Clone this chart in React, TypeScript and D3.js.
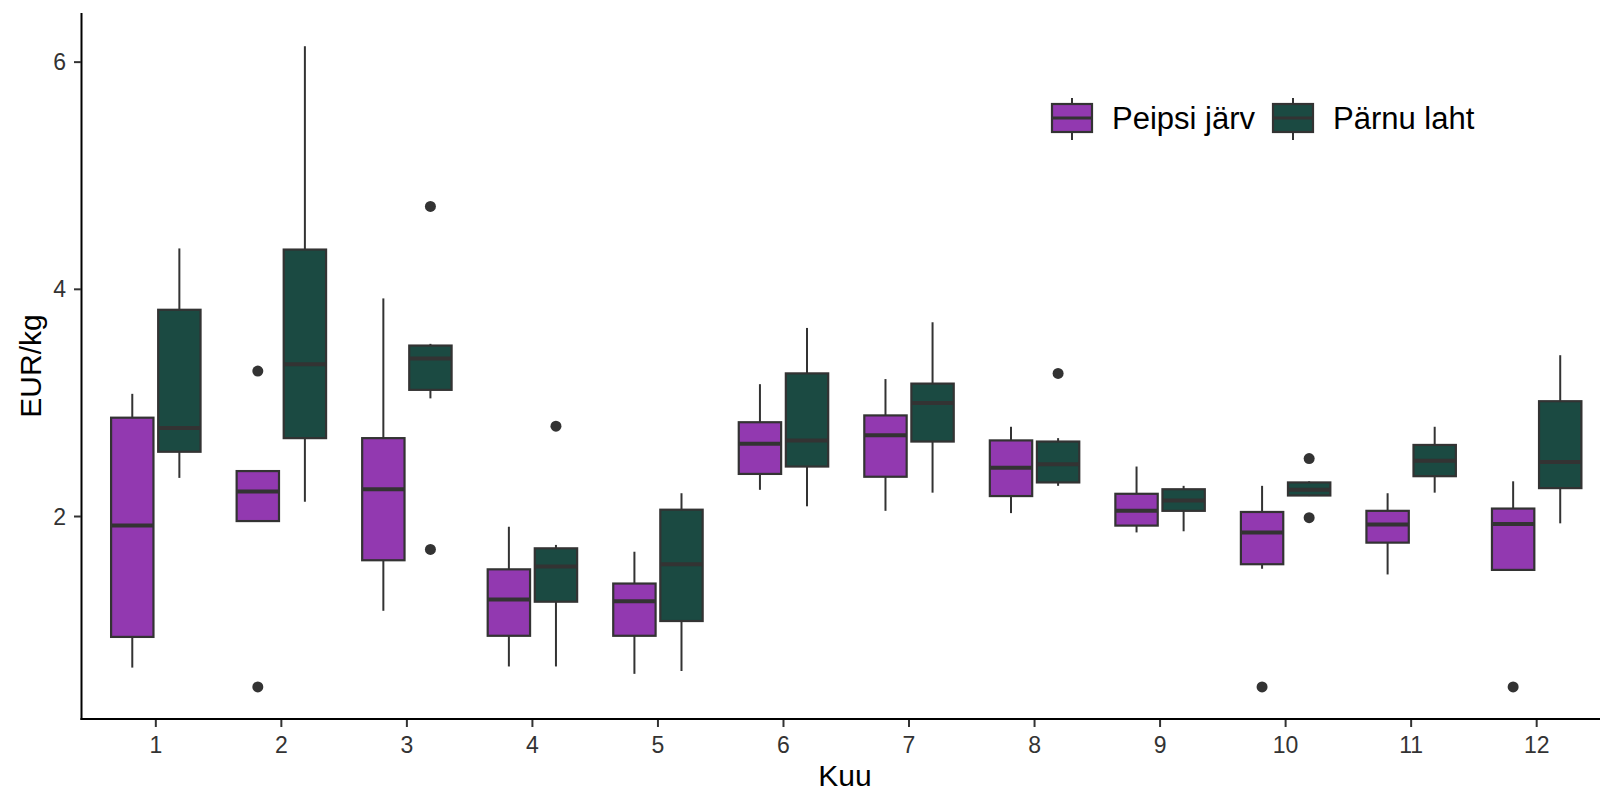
import React from "react";
import * as d3 from "d3";

// months on the x axis
const months = [1, 2, 3, 4, 5, 6, 7, 8, 9, 10, 11, 12];
const seriesNames = ["Peipsi järv", "Pärnu laht"];
const seriesColors = ["#9239B0", "#1B4A42"];
const yTicks = [2, 4, 6];

// Peipsi järv: whisker low, q1, median, q3, whisker high
const peipsiLow = [0.67, 1.96, 1.17, 0.68, 0.615, 2.235, 2.05, 2.03, 1.86, 1.54, 1.49, 1.53];
const peipsiQ1 = [0.94, 1.96, 1.615, 0.95, 0.95, 2.375, 2.35, 2.18, 1.92, 1.58, 1.77, 1.53];
const peipsiMed = [1.92, 2.22, 2.24, 1.27, 1.255, 2.64, 2.715, 2.43, 2.05, 1.86, 1.93, 1.935];
const peipsiQ3 = [2.87, 2.4, 2.69, 1.535, 1.41, 2.83, 2.89, 2.67, 2.2, 2.04, 2.05, 2.07];
const peipsiHigh = [3.08, 2.4, 3.92, 1.91, 1.69, 3.165, 3.21, 2.79, 2.44, 2.27, 2.205, 2.31];
const peipsiOutMonth = [2, 2, 10, 12];
const peipsiOutValue = [3.28, 0.5, 0.5, 0.5];

// Pärnu laht
const parnuLow = [2.34, 2.13, 3.04, 0.68, 0.64, 2.09, 2.21, 2.27, 1.87, 2.18, 2.21, 1.94];
const parnuQ1 = [2.57, 2.69, 3.115, 1.25, 1.08, 2.44, 2.66, 2.3, 2.05, 2.185, 2.355, 2.25];
const parnuMed = [2.78, 3.34, 3.39, 1.56, 1.58, 2.67, 3.0, 2.46, 2.14, 2.235, 2.49, 2.48];
const parnuQ3 = [3.82, 4.35, 3.505, 1.72, 2.06, 3.26, 3.17, 2.66, 2.24, 2.3, 2.63, 3.015];
const parnuHigh = [4.36, 6.14, 3.52, 1.75, 2.205, 3.66, 3.71, 2.69, 2.27, 2.31, 2.79, 3.42];
const parnuOutMonth = [3, 3, 4, 8, 10, 10];
const parnuOutValue = [4.73, 1.71, 2.795, 3.26, 2.51, 1.99];

const W = 1600;
const H = 793;
const font = "'Liberation Sans', Arial, sans-serif";
const ink = "#333333";

export default function App() {
  const x = d3.scalePoint<number>().domain(months).range([80.5, 1612]).padding(0.6);
  const y = d3.scaleLinear().domain([0.2175, 6.4325]).range([719, 13]);
  const step = x.step();
  const boxW = 0.3375 * step;
  const dodge = [-0.1875 * step, 0.1875 * step];

  const series = [
    { low: peipsiLow, q1: peipsiQ1, med: peipsiMed, q3: peipsiQ3, high: peipsiHigh, om: peipsiOutMonth, ov: peipsiOutValue },
    { low: parnuLow, q1: parnuQ1, med: parnuMed, q3: parnuQ3, high: parnuHigh, om: parnuOutMonth, ov: parnuOutValue },
  ];

  const legendX = [1052, 1273];

  return (
    <svg width={W} height={H} style={{ position: "absolute", left: 0, top: 0, background: "#fff" }} fontFamily={font}>
      {series.map((s, si) => (
        <g key={si}>
          {s.om.map((m, i) => (
            <circle key={"o" + i} cx={(x(m) as number) + dodge[si]} cy={y(s.ov[i])} r={5.5} fill={ink} />
          ))}
          {months.map((m, i) => {
            const cx = (x(m) as number) + dodge[si];
            return (
              <g key={m}>
                <line x1={cx} x2={cx} y1={y(s.high[i])} y2={y(s.q3[i])} stroke={ink} strokeWidth={2} />
                <line x1={cx} x2={cx} y1={y(s.q1[i])} y2={y(s.low[i])} stroke={ink} strokeWidth={2} />
                <rect
                  x={cx - boxW / 2}
                  y={y(s.q3[i])}
                  width={boxW}
                  height={Math.max(0.5, y(s.q1[i]) - y(s.q3[i]))}
                  fill={seriesColors[si]}
                  stroke={ink}
                  strokeWidth={2.2}
                />
                <line x1={cx - boxW / 2} x2={cx + boxW / 2} y1={y(s.med[i])} y2={y(s.med[i])} stroke={ink} strokeWidth={4} />
              </g>
            );
          })}
        </g>
      ))}

      {/* axes */}
      <line x1={81.5} x2={81.5} y1={13} y2={720} stroke="#000" strokeWidth={2} />
      <line x1={80.5} x2={W} y1={719} y2={719} stroke="#000" strokeWidth={2} />
      {yTicks.map((t) => (
        <g key={t}>
          <line x1={74} x2={81} y1={y(t)} y2={y(t)} stroke={ink} strokeWidth={2} />
          <text x={66} y={y(t)} textAnchor="end" dominantBaseline="central" fontSize={23} fill={ink}>
            {t}
          </text>
        </g>
      ))}
      {months.map((m) => (
        <g key={m}>
          <line x1={x(m)} x2={x(m)} y1={720} y2={727} stroke={ink} strokeWidth={2} />
          <text x={x(m)} y={753} textAnchor="middle" fontSize={23} fill={ink}>
            {m}
          </text>
        </g>
      ))}
      <text x={845} y={786} textAnchor="middle" fontSize={30} fill="#000">
        Kuu
      </text>
      <text transform="translate(41,366) rotate(-90)" textAnchor="middle" fontSize={30} fill="#000">
        EUR/kg
      </text>

      {/* legend */}
      {seriesNames.map((name, i) => (
        <g key={name} transform={`translate(${legendX[i]},0)`}>
          <line x1={20} x2={20} y1={98} y2={140} stroke={ink} strokeWidth={2} />
          <rect x={0} y={104} width={40} height={28} fill={seriesColors[i]} stroke={ink} strokeWidth={2.2} />
          <line x1={0} x2={40} y1={118} y2={118} stroke={ink} strokeWidth={3} />
          <text x={60} y={118} dominantBaseline="central" fontSize={31} fill="#000">
            {name}
          </text>
        </g>
      ))}
    </svg>
  );
}
